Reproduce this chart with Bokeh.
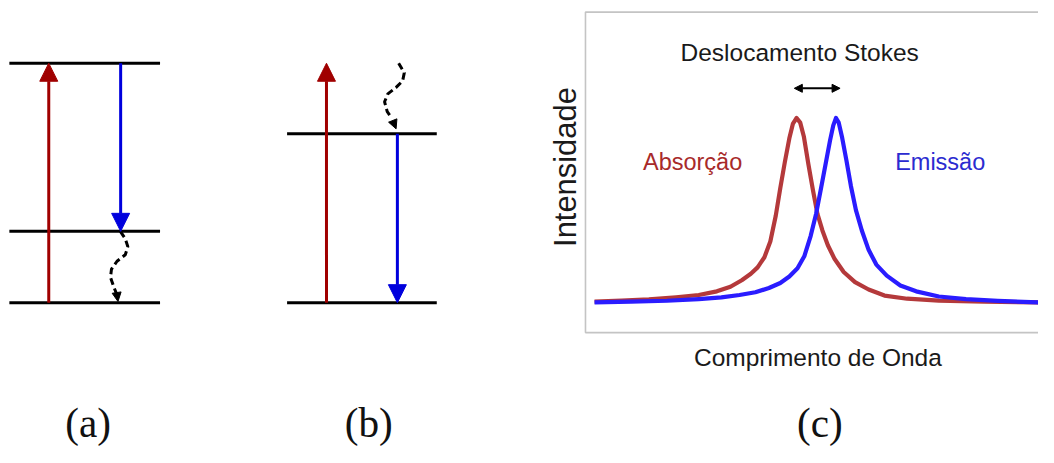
import math
from bokeh.plotting import figure
from bokeh.models import Range1d, Arrow, NormalHead, Label
from bokeh.embed import file_html
from bokeh.resources import INLINE

# ---------------- data ----------------
# Energy-level diagrams (relative energy: ground state = 0, upper excited state = 1)
levels_a = [0.0, 0.298, 1.0]
levels_b = [0.0, 0.706]
absorption_a = [0.0, 1.0]      # start, end energy
emission_a = [1.0, 0.298]
absorption_b = [0.0, 1.0]
emission_b = [0.706, 0.0]
# non-radiative (vibrational) relaxation paths: x in px, energy
relax_a_x = [121.7, 126.7, 129.3, 126.7, 118.3, 112.7, 111.7, 115.0, 118.3, 119.3]
relax_a_e = [0.298, 0.267, 0.234, 0.200, 0.173, 0.140, 0.106, 0.066, 0.032, 0.005]
relax_b_x = [404.3, 410.0, 408.3, 401.7, 393.3, 390.0, 392.7, 397.3, 401.7]
relax_b_e = [1.0, 0.960, 0.926, 0.899, 0.872, 0.839, 0.798, 0.771, 0.726]

# Spectra (wavelength in arbitrary units 0-100, normalised intensity)
abs_wl = [2, 8, 14, 20, 25, 29, 32, 34.5, 36.5, 38, 39.5, 40.8, 42, 43, 44, 45, 45.8, 46.6,
          47.4, 48.2, 49.2, 50.2, 51.2, 52.3, 53.5, 55, 57, 59.5, 62.5, 66, 71, 78, 88, 100, 104]
abs_int = [0.004, 0.01, 0.016, 0.028, 0.04, 0.06, 0.085, 0.12, 0.155, 0.19, 0.245, 0.33, 0.47,
           0.62, 0.76, 0.89, 0.97, 1.0,
           0.975, 0.9, 0.75, 0.61, 0.48, 0.39, 0.31, 0.235, 0.165, 0.11, 0.07, 0.037, 0.02,
           0.01, 0.004, 0.0, 0.0]
emi_wl = [2, 10, 18, 25, 30, 34, 37.5, 40.5, 43, 45, 46.8, 48.3, 49.7, 50.9, 52, 53, 54, 54.7, 55.3,
          55.9, 56.6, 57.6, 58.6, 59.7, 61, 62.5, 64.2, 66.5, 69.5, 73, 78, 84, 91, 100, 104]
emi_int = [0.0, 0.004, 0.009, 0.018, 0.027, 0.04, 0.055, 0.078, 0.105, 0.14, 0.185, 0.25, 0.36,
           0.48, 0.62, 0.75, 0.88, 0.96, 1.0,
           0.975, 0.9, 0.77, 0.63, 0.5, 0.39, 0.285, 0.205, 0.145, 0.092, 0.06, 0.032, 0.018,
           0.008, 0.0, 0.0]
stokes_wl = [46.1, 56.2]
stokes_level = 1.161

labels_panel = ["(a)", "(b)", "(c)"]

# ---------------- layout ----------------
W, H = 1038, 447                    # figure size (fits the window with the 8px page margin)
REF_W, REF_H = 1054, 463            # reference-pixel coordinate frame
E_BASE_PY, E_PX = 313.0, 248.0      # energy 0 -> y px, px per unit
SPEC_X0, SPEC_PX_W = 594.0, 4.6     # wavelength 0 -> x px, px per unit
SPEC_BASE_PY, SPEC_PX_I = 312.7, 191.0
FS = 0.98                           # font scale

p = figure(width=W, height=H, output_backend="svg", toolbar_location=None,
           x_range=Range1d(0, REF_W), y_range=Range1d(REF_H, 0),
           min_border=0, outline_line_color=None)
p.axis.visible = False
p.xgrid.visible = False
p.ygrid.visible = False
p.background_fill_color = "white"
p.border_fill_color = "white"

p.extra_y_ranges = {
    "energy": Range1d((E_BASE_PY - REF_H) / E_PX, E_BASE_PY / E_PX),
    "int": Range1d((SPEC_BASE_PY - REF_H) / SPEC_PX_I, SPEC_BASE_PY / SPEC_PX_I),
}
p.extra_x_ranges = {
    "wl": Range1d(-SPEC_X0 / SPEC_PX_W, (REF_W - SPEC_X0) / SPEC_PX_W),
}

RED = "#a00000"
BLUE = "#0000dd"

def fs(px):
    return f"{px * FS:.1f}px"

# ---- panel (a) and (b): energy levels ----
def draw_levels(levels, x0, x1):
    for e in levels:
        p.line([x0, x1], [e, e], y_range_name="energy", line_color="black", line_width=3)

draw_levels(levels_a, 9, 162)
draw_levels(levels_b, 291, 443)

def transition(x, es, color):
    p.add_layout(Arrow(x_start=x, y_start=es[0], x_end=x, y_end=es[1], y_range_name="energy",
                       line_color=color, line_width=3,
                       end=NormalHead(size=18, fill_color=color, line_color=color, line_width=1)))

transition(49, absorption_a, RED)
transition(122, emission_a, BLUE)
transition(331, absorption_b, RED)
transition(403, emission_b, BLUE)

def relax(xs, es):
    p.line(xs[:-1], es[:-1], y_range_name="energy", line_color="black", line_width=3,
           line_dash="7 4")
    p.add_layout(Arrow(x_start=xs[-2], y_start=es[-2], x_end=xs[-1], y_end=es[-1],
                       y_range_name="energy", line_alpha=0,
                       end=NormalHead(size=9, fill_color="black", line_color="black", line_width=1)))

relax(relax_a_x, relax_a_e)
relax(relax_b_x, relax_b_e)

# ---- panel (c): spectra ----
p.quad(left=SPEC_X0, right=1090, top=12, bottom=344, fill_alpha=0, line_color="#c4c4c4", line_width=1.6)

p.line(abs_wl, abs_int, x_range_name="wl", y_range_name="int", line_color="#b4393b",
       line_width=4.2, line_join="round")
p.line(emi_wl, emi_int, x_range_name="wl", y_range_name="int", line_color="#2a1cff",
       line_width=4.2, line_join="round")

p.add_layout(Arrow(x_start=stokes_wl[0], y_start=stokes_level, x_end=stokes_wl[1], y_end=stokes_level,
                   x_range_name="wl", y_range_name="int", line_color="black", line_width=2,
                   start=NormalHead(size=8, fill_color="black", line_color="black", line_width=1),
                   end=NormalHead(size=8, fill_color="black", line_color="black", line_width=1)))

SANS = "Liberation Sans"
p.add_layout(Label(x=811.5, y=54, text="Deslocamento Stokes", text_font=SANS, text_font_size=fs(25),
                   text_align="center", text_baseline="middle", text_color="#1a1a1a"))
p.add_layout(Label(x=23.65, y=(SPEC_BASE_PY - 167.5) / SPEC_PX_I, x_range_name="wl", y_range_name="int",
                   text="Absorção", text_font=SANS, text_font_size=fs(24), text_align="center",
                   text_baseline="middle", text_color="#a82a2a"))
p.add_layout(Label(x=78.3, y=(SPEC_BASE_PY - 167.5) / SPEC_PX_I, x_range_name="wl", y_range_name="int",
                   text="Emissão", text_font=SANS, text_font_size=fs(24), text_align="center",
                   text_baseline="middle", text_color="#2b2bd0"))
p.add_layout(Label(x=830, y=369.5, text="Comprimento de Onda", text_font=SANS, text_font_size=fs(25),
                   text_align="center", text_baseline="middle", text_color="#1a1a1a"))
p.add_layout(Label(x=574, y=172.5, text="Intensidade", text_font=SANS, text_font_size=fs(31.5),
                   angle=math.pi / 2, text_align="center", text_baseline="middle",
                   text_color="#1a1a1a"))

for lab, xc in zip(labels_panel, [89, 374, 832]):
    p.add_layout(Label(x=xc, y=438, text=lab, text_font="Liberation Serif", text_font_size=fs(42),
                       text_align="center", text_baseline="middle", text_color="#111111"))

open("out.html", "w").write(file_html(p, INLINE))
